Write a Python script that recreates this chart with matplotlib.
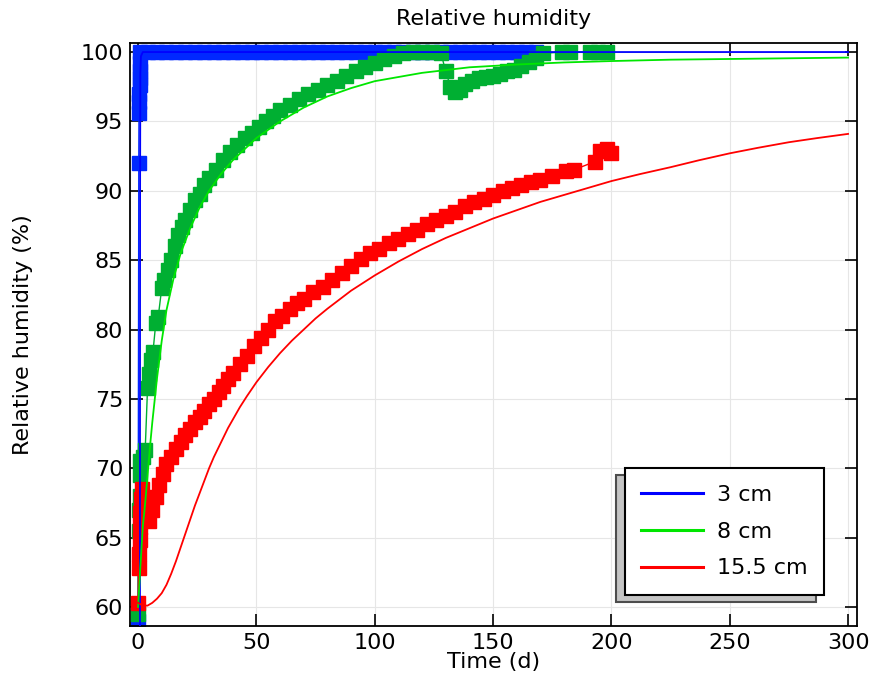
import matplotlib
matplotlib.use("Agg")
import matplotlib.pyplot as plt

# measured data (square markers)
blue_t = [0, 0.3, 0.4, 0.5, 0.5, 0.6, 0.6, 0.7, 0.8, 1, 4, 8, 12, 16, 20, 24, 28, 32,
          36, 40, 44, 48, 52, 56, 60, 64, 68, 72, 76, 80, 84, 88, 92, 96, 100, 104,
          108, 112, 116, 120, 124, 128, 132, 136, 140, 144, 148, 152, 156, 160, 164, 168]
blue_rh = [59.0, 92.0, 95.6, 96.4, 97.0, 97.6, 98.1, 98.6, 99.2, 100, 100, 100, 100, 100,
           100, 100, 100, 100, 100, 100, 100, 100, 100, 100, 100, 100, 100, 100, 100, 100,
           100, 100, 100, 100, 100, 100, 100, 100, 100, 100, 100, 100, 100, 100, 100, 100,
           100, 100, 100, 100, 100, 100]

green_t = [0, 0.2, 0.4, 0.6, 0.8, 1.0, 2.0, 3.0, 4.0, 4.8, 5.5, 6.3, 7.5, 8.5, 10, 11,
           12.5, 14, 15.5, 17, 18.5, 20, 22, 24, 26, 28, 30, 33, 36, 39, 42, 45, 48, 51,
           54, 57, 60, 64, 68, 72, 76, 80, 84, 88, 92, 96, 100, 104, 108, 112, 116, 120,
           124, 128, 130, 132, 134, 136, 138, 141, 144, 147, 150, 153, 156, 159, 162,
           165, 168, 171, 179, 182.5, 191, 194.5, 198]
green_rh = [59.5, 65.5, 67.0, 68.0, 69.5, 70.5, 70.8, 71.3, 75.8, 76.8, 77.8, 78.4, 80.5,
            80.9, 83.0, 83.6, 84.3, 85.0, 86.0, 86.8, 87.4, 87.9, 88.6, 89.3, 89.8, 90.4,
            90.9, 91.5, 92.2, 92.8, 93.3, 93.8, 94.2, 94.6, 95.0, 95.4, 95.8, 96.2, 96.6,
            97.0, 97.3, 97.6, 97.9, 98.3, 98.6, 98.9, 99.2, 99.5, 99.7, 99.9, 100, 100,
            100, 99.9, 98.6, 97.5, 97.1, 97.3, 97.7, 97.9, 98.1, 98.2, 98.3, 98.4, 98.6,
            98.7, 99.0, 99.3, 99.6, 99.9, 100, 100, 100, 100, 100]

red_t = [0, 0.2, 0.4, 0.6, 0.8, 1.0, 1.3, 1.6, 3, 4.5, 6, 7.5, 9, 10.5, 12, 14, 16, 18,
         20, 22, 24, 26, 28, 30, 32, 34, 36, 38, 40, 43, 46, 49, 52, 55, 58, 61, 64, 67,
         70, 74, 78, 82, 86, 90, 94, 98, 102, 106, 110, 114, 118, 122, 126, 130, 134,
         138, 142, 146, 150, 154, 158, 162, 166, 170, 175, 181, 184, 193, 195, 198, 200]
red_rh = [60.3, 62.8, 63.8, 64.8, 65.8, 66.8, 67.8, 68.5, 66.5, 66.2, 67.0, 67.9, 68.8,
          69.6, 70.3, 70.8, 71.4, 71.9, 72.4, 72.8, 73.3, 73.7, 74.1, 74.6, 75.0, 75.5,
          75.9, 76.4, 76.9, 77.5, 78.1, 78.8, 79.4, 80.0, 80.6, 81.0, 81.5, 81.9, 82.2,
          82.7, 83.1, 83.6, 84.1, 84.6, 85.1, 85.5, 85.8, 86.2, 86.5, 86.9, 87.2, 87.6,
          87.9, 88.2, 88.5, 88.9, 89.2, 89.4, 89.7, 90.0, 90.2, 90.4, 90.6, 90.8, 91.1,
          91.4, 91.5, 92.1, 92.9, 93.0, 92.7]

# model curves
blue_model_t = [0.8, 0.8, 0.85, 0.95, 1.2, 2, 300]
blue_model_rh = [58.0, 70.0, 90.0, 98.5, 99.7, 100, 100]

green_model_t = [0, 1, 2, 3, 4, 5, 6, 8, 10, 12, 15, 18, 22, 26, 30, 35, 40, 50, 60, 70,
                 80, 90, 100, 120, 140, 160, 180, 200, 225, 250, 275, 300]
green_model_rh = [60.0, 63.0, 65.8, 67.5, 69.5, 71.5, 73.3, 76.5, 79.2, 81.4, 83.7, 85.5,
                  87.3, 88.8, 90.0, 91.2, 92.2, 93.8, 95.0, 96.0, 96.8, 97.4, 97.9, 98.5,
                  98.9, 99.1, 99.25, 99.35, 99.45, 99.5, 99.55, 99.6]

red_model_t = [0, 2, 4, 6, 8, 10, 12, 14, 16, 18, 20, 22, 24, 26, 28, 30, 32, 34, 36, 38,
               40, 43, 46, 50, 55, 60, 65, 70, 75, 80, 90, 100, 110, 120, 130, 140, 150,
               160, 170, 180, 190, 200, 212, 225, 237, 250, 262, 275, 287, 300]
red_model_rh = [60.3, 60.1, 60.1, 60.3, 60.6, 61.0, 61.6, 62.4, 63.3, 64.3, 65.3, 66.3,
                67.3, 68.2, 69.1, 70.0, 70.8, 71.5, 72.2, 72.9, 73.5, 74.4, 75.2, 76.2,
                77.3, 78.3, 79.2, 80.0, 80.8, 81.5, 82.8, 83.9, 84.9, 85.8, 86.6, 87.3,
                88.0, 88.6, 89.2, 89.7, 90.2, 90.7, 91.2, 91.7, 92.2, 92.7, 93.1, 93.5,
                93.8, 94.1]

labels = ["3 cm", "8 cm", "15.5 cm"]

plt.rcParams['font.family'] = 'DejaVu Sans'
fig = plt.figure(figsize=(8.71, 6.84), dpi=100)
ax = fig.add_axes([0.1493, 0.0848, 0.8347, 0.8523])

ms = 9.5
ax.plot(blue_t, blue_rh, color='#0028ff', marker='s', ms=ms, lw=1, zorder=2)
ax.plot(green_t, green_rh, color='#00af32', marker='s', ms=ms, lw=1, zorder=3)
ax.plot(red_t, red_rh, color='#ff0000', marker='s', ms=ms, lw=1, zorder=3)

l1, = ax.plot(blue_model_t, blue_model_rh, color='#0000ff', lw=1.3, zorder=5)
l2, = ax.plot(green_model_t, green_model_rh, color='#00e600', lw=1.3, zorder=5)
l3, = ax.plot(red_model_t, red_model_rh, color='#ff0000', lw=1.3, zorder=5)

ax.set_xlim(-3.4, 303.8)
ax.set_ylim(58.63, 100.65)
ax.set_xticks([0, 50, 100, 150, 200, 250, 300])
ax.set_yticks([60, 65, 70, 75, 80, 85, 90, 95, 100])
ax.grid(True, color='#e6e6e6', linewidth=0.8, zorder=0)
ax.set_axisbelow(True)
ax.tick_params(direction='in', length=9, width=1.2, top=True, right=True,
               labelsize=16, pad=5)
for s in ax.spines.values():
    s.set_linewidth(1.3)

ax.set_title('Relative humidity', fontsize=16, pad=13)
ax.set_xlabel('Time (d)', fontsize=16, labelpad=-1)
ax.set_ylabel('Relative humidity (%)', fontsize=16, labelpad=34)

leg = ax.legend([l1, l2, l3], labels, loc='lower right', bbox_to_anchor=(0.9546, 0.0532),
                borderaxespad=0, fontsize=16, handlelength=2.8, handletextpad=0.6,
                labelspacing=0.75, borderpad=0.75, fancybox=False, framealpha=1,
                edgecolor='black',
                shadow={'ox': -6, 'oy': -5, 'facecolor': '#c4c4c4', 'alpha': 1})
leg.get_frame().set_linewidth(1.5)
for h in leg.get_lines():
    h.set_linewidth(2.2)

fig.savefig('out.png', dpi=100)
